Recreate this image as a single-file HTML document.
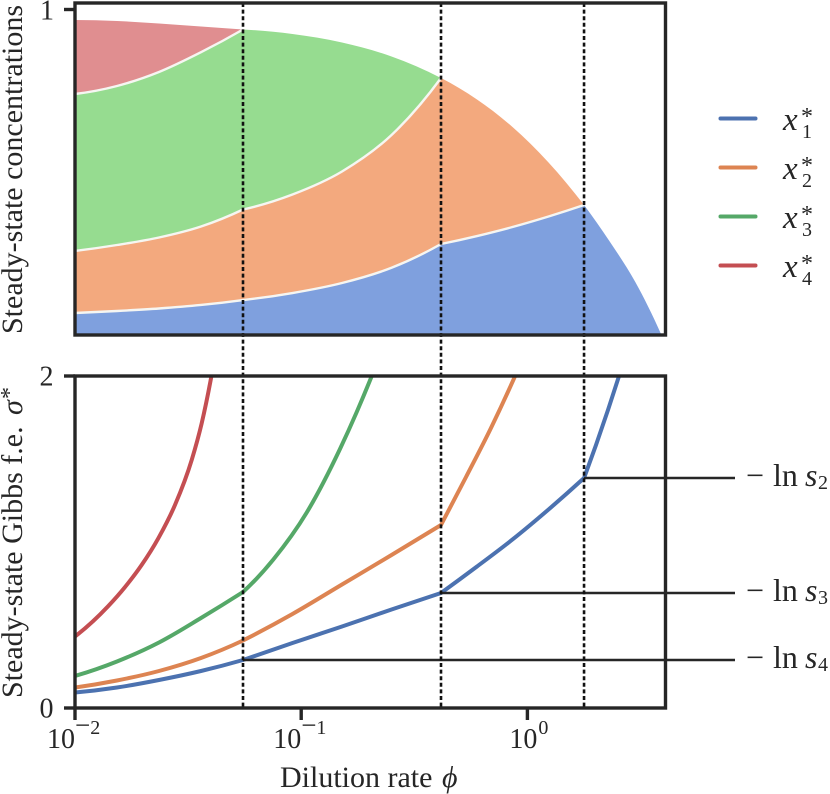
<!DOCTYPE html>
<html>
<head>
<meta charset="utf-8">
<style>
html,body{margin:0;padding:0;background:#fff;}
svg{display:block;}
text{font-family:"Liberation Serif",serif;fill:#262626;}
.m{font-style:italic;}
</style>
</head>
<body>
<svg id="chart" width="830" height="794" viewBox="0 0 830 794" xmlns="http://www.w3.org/2000/svg">
<defs>
<clipPath id="bottom-clip"><rect x="75" y="376" width="590.5" height="332"/></clipPath>
</defs>
<g id="areas"></g>
<g id="lines" clip-path="url(#bottom-clip)"></g>
<g id="hlines"></g>
<g id="vlines"></g>
<g id="axes"></g>

<text transform="translate(22,334) rotate(-90)" font-size="30">Steady-state concentrations</text>
<text transform="translate(22,698) rotate(-90)" font-size="30">Steady-state Gibbs f.e.</text>
<text transform="translate(22,415) rotate(-90)" font-size="30" class="m">σ</text>
<text transform="translate(17,399) rotate(-90)" font-size="24">*</text>
<text x="280" y="787" font-size="30">Dilution rate</text>
<text x="442" y="787" font-size="30" class="m">ϕ</text>

<g id="legend"></g>
<g id="threshold-labels"></g>
</svg>
<script>
const phiGrid = [0.01, 0.01533, 0.02351, 0.03606, 0.0553, 0.0915, 0.1515, 0.2508, 0.415, 0.5987, 0.8593, 1.24, 1.78, 2.311, 2.999, 3.896];
const x1Conc = [0.0676, 0.0737, 0.0814, 0.0922, 0.1075, 0.129, 0.1598, 0.2065, 0.2796, 0.3041, 0.3318, 0.3641, 0.3994, 0.2873, 0.1628, 0.0031];
const x2Conc = [0.1905, 0.2028, 0.2181, 0.2411, 0.2781, 0.3026, 0.3425, 0.4079, 0.51, 0.4194, 0.3072, 0.1659, 0];
const x3Conc = [0.4823, 0.4885, 0.5085, 0.5355, 0.553, 0.4931, 0.3963, 0.2412, 0];
const x4Conc = [0.2273, 0.1997, 0.149, 0.079, 0];

const criticalPhi = [0.0553, 0.415, 1.78];
const thresholdSigma = [1.3855, 0.6928, 0.2892];
const thresholdSub = ['2', '3', '4'];

const sigma1Phi = [0.01, 0.01533, 0.02351, 0.03606, 0.0553, 0.0915, 0.1515, 0.2508, 0.415, 0.5987, 0.8593, 1.24, 1.78, 2.01, 2.271, 2.567];
const sigma1 = [0.0934, 0.1235, 0.1687, 0.2229, 0.2892, 0.3916, 0.491, 0.5934, 0.6928, 0.8524, 1.0151, 1.1958, 1.3855, 1.5843, 1.7952, 2.0181];
const sigma2Phi = [0.01, 0.01533, 0.02351, 0.03606, 0.0553, 0.0915, 0.1515, 0.2508, 0.415, 0.5354, 0.6902, 0.8903];
const sigma2 = [0.1235, 0.1657, 0.2229, 0.3012, 0.4066, 0.5663, 0.744, 0.9217, 1.1024, 1.3916, 1.6867, 2.012];
const sigma3Phi = [0.01, 0.01533, 0.02351, 0.03606, 0.0553, 0.0753, 0.1058, 0.1484, 0.176, 0.2076];
const sigma3 = [0.1928, 0.2801, 0.3946, 0.5422, 0.6988, 0.8946, 1.1777, 1.5602, 1.7831, 2.0181];
const sigma4Phi = [0.01, 0.01404, 0.01663, 0.01972, 0.02335, 0.02768, 0.03281, 0.03631, 0.04115];
const sigma4 = [0.4307, 0.6145, 0.7283, 0.862, 1.0223, 1.2235, 1.4946, 1.7151, 2.0855];

const xTickExponents = [-2, -1, 0];
const topYTicks = [1];
const bottomYTicks = [0, 2];
const legendSubs = ['1', '2', '3', '4'];

const NS = 'http://www.w3.org/2000/svg';
const LINE = ['#4c72b0', '#dd8452', '#55a868', '#c44e52'];
const FILL = ['#7fa0de', '#f3a97e', '#96dc90', '#e08e90'];
const INK = '#262626';
const L = 75, R = 665.5, TT = 3, TB = 335, BT = 376, BB = 708;

function xScale(phi) { return L + 226.2 * (Math.log10(phi) + 2); }
function yTop(c) { return TB - 325.5 * c; }
function yBot(s) { return BB - 166 * s; }

function make(tag, parent, attrs) {
  const el = document.createElementNS(NS, tag);
  for (const k in attrs) el.setAttribute(k, attrs[k]);
  parent.appendChild(el);
  return el;
}
function isKink(phi) {
  return criticalPhi.some(function (c) { return Math.abs(c - phi) < 1e-9; });
}
function slopes(p) {
  const n = p.length, m = [];
  if (n === 2) {
    const d = (p[1][1] - p[0][1]) / (p[1][0] - p[0][0]);
    return [d, d];
  }
  for (let i = 0; i < n; i++) {
    if (i === 0 || i === n - 1) {
      const a = i === 0 ? 0 : n - 3;
      const h0 = p[a + 1][0] - p[a][0], h1 = p[a + 2][0] - p[a + 1][0];
      const d0 = (p[a + 1][1] - p[a][1]) / h0, d1 = (p[a + 2][1] - p[a + 1][1]) / h1;
      m.push(i === 0
        ? ((2 * h0 + h1) * d0 - h0 * d1) / (h0 + h1)
        : ((2 * h1 + h0) * d1 - h1 * d0) / (h0 + h1));
    } else {
      const h0 = p[i][0] - p[i - 1][0], h1 = p[i + 1][0] - p[i][0];
      const d0 = (p[i][1] - p[i - 1][1]) / h0, d1 = (p[i + 1][1] - p[i][1]) / h1;
      m.push((h1 * d0 + h0 * d1) / (h0 + h1));
    }
  }
  return m;
}
/* Smooth between kinks, sharp at the critical dilution rates. pts = [[px,py,phi],...] */
function curve(pts, move) {
  let d = (move ? 'M' : 'L') + pts[0][0].toFixed(2) + ',' + pts[0][1].toFixed(2);
  const kinks = [0];
  for (let i = 1; i < pts.length - 1; i++) if (isKink(pts[i][2])) kinks.push(i);
  kinks.push(pts.length - 1);
  for (let s = 0; s < kinks.length - 1; s++) {
    const seg = pts.slice(kinks[s], kinks[s + 1] + 1);
    const m = slopes(seg);
    for (let i = 0; i < seg.length - 1; i++) {
      const h = seg[i + 1][0] - seg[i][0];
      const c1x = seg[i][0] + h / 3, c1y = seg[i][1] + m[i] * h / 3;
      const c2x = seg[i + 1][0] - h / 3, c2y = seg[i + 1][1] - m[i + 1] * h / 3;
      d += 'C' + c1x.toFixed(2) + ',' + c1y.toFixed(2) + ' ' + c2x.toFixed(2) + ',' + c2y.toFixed(2) + ' ' + seg[i + 1][0].toFixed(2) + ',' + seg[i + 1][1].toFixed(2);
    }
  }
  return d;
}

/* stacked areas */
const concSeries = [x1Conc, x2Conc, x3Conc, x4Conc];
const areasG = document.getElementById('areas');
let baseline = phiGrid.map(function () { return 0; });
const boundaries = [];
concSeries.forEach(function (vals, k) {
  const upper = vals.map(function (v, i) { return [xScale(phiGrid[i]), yTop(baseline[i] + v), phiGrid[i]]; });
  const lower = vals.map(function (v, i) { return [xScale(phiGrid[i]), yTop(baseline[i]), phiGrid[i]]; }).reverse();
  const area = make('path', areasG, { d: curve(upper, true) + curve(lower, false) + 'Z', fill: FILL[k] });
  
  
  vals.forEach(function (v, i) { baseline[i] += v; });
  boundaries.push(upper);
});
boundaries.slice(0, 3).forEach(function (pts, k) {
  const n = concSeries[k + 1].length;
  const edge = make('path', areasG, { d: curve(pts.slice(0, n), true), fill: 'none', stroke: '#f6f6f2', 'stroke-width': 2.4 });
  
  
});

/* bottom lines */
const linesG = document.getElementById('lines');
[[sigma1Phi, sigma1], [sigma2Phi, sigma2], [sigma3Phi, sigma3], [sigma4Phi, sigma4]].forEach(function (s, k) {
  const pts = s[0].map(function (p, i) { return [xScale(p), yBot(s[1][i]), p]; });
  const line = make('path', linesG, { d: curve(pts, true), fill: 'none', stroke: LINE[k], 'stroke-width': 4, 'stroke-linejoin': 'round' });
  
  
});

/* threshold lines and labels */
const hG = document.getElementById('hlines');
const labG = document.getElementById('threshold-labels');
thresholdSigma.forEach(function (s, i) {
  const px = xScale(criticalPhi[criticalPhi.length - 1 - i]);
  const py = yBot(s);
  const ln = make('line', hG, { x1: px, x2: 735, y1: py, y2: py, stroke: INK, 'stroke-width': 2.4 });
  
  
  const t = make('text', labG, { x: 746, y: py + 8, 'font-size': 32 });
  
  
  make('tspan', t, { x: 746 }).textContent = '\u2212';
  make('tspan', t, { x: 773 }).textContent = 'ln';
  make('tspan', t, { x: 805, class: 'm' }).textContent = 's';
  make('tspan', t, { x: 818, dy: 3, 'font-size': 20 }).textContent = thresholdSub[i];
});

/* vertical dotted lines */
const vG = document.getElementById('vlines');
criticalPhi.forEach(function (c, i) {
  const px = xScale(c);
  const v = make('line', vG, { x1: px, x2: px, y1: TT, y2: BB, stroke: '#111', 'stroke-width': 2.6, 'stroke-dasharray': '4 2.6' });
  
  
});

/* axes */
const axG = document.getElementById('axes');
[[TT, TB, 'top-axes-frame'], [BT, BB, 'bottom-axes-frame']].forEach(function (f) {
  const r = make('rect', axG, { x: L, y: f[0], width: R - L, height: f[1] - f[0], fill: 'none', stroke: INK, 'stroke-width': 3.4 });
  
  
});
topYTicks.forEach(function (v) {
  const py = yTop(v);
  const tk = make('line', axG, { x1: 64, x2: L, y1: py, y2: py, stroke: INK, 'stroke-width': 3.4 });
  
  
  const t = make('text', axG, { x: 47, y: py + 10, 'font-size': 28, 'text-anchor': 'middle' });
  
  
  t.textContent = String(v);
});
bottomYTicks.forEach(function (v) {
  const py = yBot(v);
  const tk = make('line', axG, { x1: 64, x2: L, y1: py, y2: py, stroke: INK, 'stroke-width': 3.4 });
  
  
  const t = make('text', axG, { x: 46.5, y: py + 9.5, 'font-size': 28, 'text-anchor': 'middle' });
  
  
  t.textContent = String(v);
});
xTickExponents.forEach(function (e) {
  const px = xScale(Math.pow(10, e));
  const tk = make('line', axG, { x1: px, x2: px, y1: BB, y2: 720, stroke: INK, 'stroke-width': 3.4 });
  
  
  const sx = px + (e < 0 ? -28 : -18);
  const t = make('text', axG, { x: sx, y: 748, 'font-size': 28 });
  
  
  make('tspan', t, {}).textContent = '10';
  if (e < 0) {
    make('tspan', t, { dy: -14, dx: 0, 'font-size': 27 }).textContent = '\u2212';
    make('tspan', t, { 'font-size': 20 }).textContent = String(-e);
  } else {
    make('tspan', t, { dy: -14, dx: 1, 'font-size': 20 }).textContent = String(e);
  }
});

/* legend */
const lgG = document.getElementById('legend');
legendSubs.forEach(function (sub, i) {
  const py = 118.5 + 49 * i;
  const ln = make('line', lgG, { x1: 720.5, x2: 755.5, y1: py, y2: py, stroke: LINE[i], 'stroke-width': 4, 'stroke-linecap': 'round' });
  
  
  const t = make('text', lgG, { x: 783, y: py + 11.5, 'font-size': 33, class: 'm' });
  
  
  t.textContent = 'x';
  const star = make('text', lgG, { x: 801, y: py + 5.5, 'font-size': 24 });
  
  
  star.textContent = '*';
  const st = make('text', lgG, { x: 802, y: py + 19.5, 'font-size': 20 });
  
  
  st.textContent = sub;
});
</script>
</body>
</html>
